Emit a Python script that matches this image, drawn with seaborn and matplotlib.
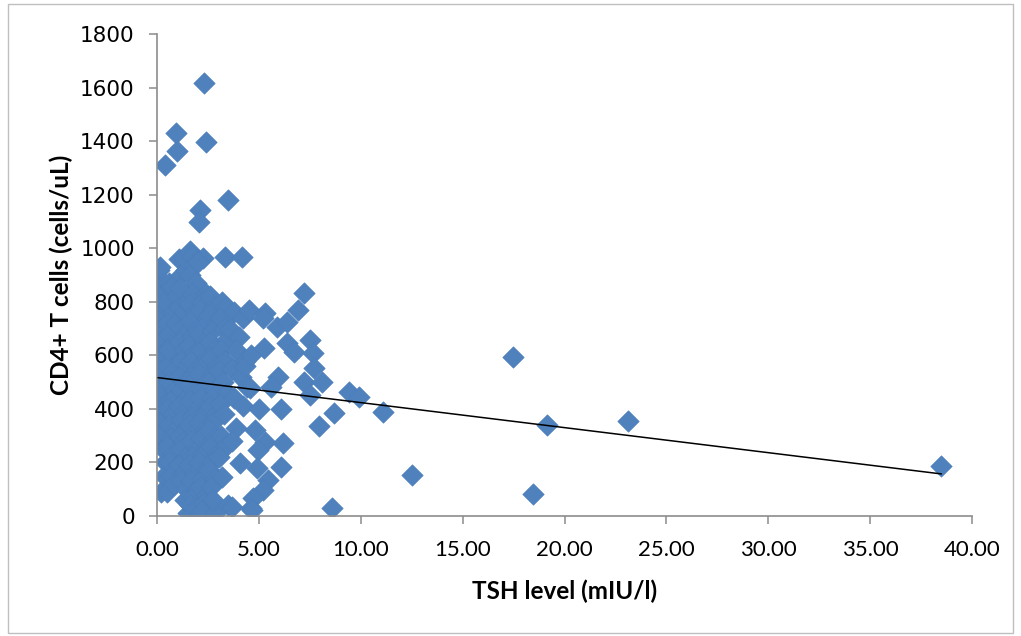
import numpy as np
import pandas as pd
import seaborn as sns
import matplotlib
matplotlib.use("Agg")
import matplotlib.pyplot as plt
from matplotlib.ticker import FormatStrFormatter
from matplotlib import font_manager
from matplotlib.patches import Rectangle

# ---------------- data ----------------
tsh_left = [0.10, 0.20, 0.15, 0.30, 0.10, 0.05, 0.20, 0.10, 0.30, 0.05, 0.15, 0.30, 0.10,
            0.20, 0.10, 0.25, 0.10, 0.30, 0.20, 0.39, 0.40, 0.40, 0.40, 0.40, 0.35, 0.15]
cd4_left = [920, 880, 850, 830, 770, 730, 700, 620, 600, 580, 540, 500, 470,
            440, 380, 350, 300, 250, 90, 1311, 800, 660, 420, 200, 150, 930]

tsh_b1 = [0.50, 0.60, 0.70, 0.80, 0.50, 0.60, 0.70, 0.90, 0.50, 0.80, 0.60, 0.90, 0.70, 0.50,
          0.80, 0.60, 0.90, 0.70, 0.50, 0.80, 0.60, 0.90, 0.70, 0.85, 0.93, 0.98, 0.75, 1.00,
          0.95, 0.55]
cd4_b1 = [90, 870, 850, 760, 720, 680, 640, 600, 560, 540, 500, 470, 430, 400,
          380, 340, 320, 290, 260, 230, 200, 180, 150, 120, 1430, 1363, 860, 820,
          720, 620]

tsh_b2 = [1.10, 1.30, 1.20, 1.40, 1.10, 1.30, 1.20, 1.40, 1.10, 1.30, 1.20, 1.45, 1.10, 1.35,
          1.20, 1.40, 1.10, 1.30, 1.20, 1.45, 1.10, 1.30, 1.20, 1.40, 1.10, 1.30, 1.20, 1.40,
          1.50, 1.35, 1.15, 1.45, 1.30]
cd4_b2 = [960, 950, 900, 920, 780, 760, 700, 680, 650, 620, 580, 560, 520, 500,
          470, 440, 410, 390, 360, 330, 300, 280, 250, 220, 190, 160, 130, 100,
          11, 60, 850, 800, 963]

tsh_b3 = [1.60, 1.70, 1.80, 1.60, 1.90, 1.70, 1.55, 1.85, 1.60, 1.95, 1.70, 1.55, 1.85, 1.65,
          1.95, 1.70, 1.55, 1.85, 1.60, 1.95, 1.70, 1.55, 1.85, 1.65, 1.95, 1.70, 1.55, 1.85,
          1.65, 1.95, 1.75, 1.60, 1.90]
cd4_b3 = [990, 970, 940, 900, 870, 830, 790, 760, 730, 700, 670, 640, 610, 580,
          550, 520, 490, 460, 430, 400, 370, 340, 310, 280, 250, 220, 190, 160,
          130, 100, 70, 40, 30]

tsh_b4 = [2.31, 2.40, 2.10, 2.05, 2.26, 2.00, 2.40, 2.20, 2.10, 2.45, 2.30, 2.05, 2.35, 2.15,
          2.45, 2.25, 2.05, 2.40, 2.20, 2.10, 2.45, 2.30, 2.05, 2.35, 2.15, 2.45, 2.25, 2.05,
          2.40, 2.20, 2.10, 2.45, 2.30, 2.20]
cd4_b4 = [1617, 1397, 1143, 1098, 963, 950, 830, 800, 770, 740, 710, 680, 650, 620,
          590, 560, 530, 500, 470, 440, 410, 380, 350, 320, 290, 260, 230, 200,
          170, 140, 110, 80, 50, 20]

tsh_b5 = [2.60, 2.80, 2.55, 2.90, 2.70, 2.60, 2.85, 2.65, 2.95, 2.75, 2.55, 2.85, 2.70, 2.60,
          2.90, 2.75, 2.55, 2.85, 2.65, 2.95, 2.70, 2.55, 2.85, 2.65, 2.85, 2.75]
cd4_b5 = [820, 780, 750, 720, 690, 650, 620, 590, 560, 530, 500, 470, 440, 410,
          380, 350, 320, 290, 260, 230, 200, 170, 140, 110, 11, 60]

tsh_b6 = [3.34, 3.50, 3.20, 3.40, 3.10, 3.30, 3.45, 3.15, 3.35, 3.05, 3.25, 3.45, 3.10, 3.30,
          3.15, 3.40, 3.05, 3.20, 3.50, 3.70]
cd4_b6 = [967, 1180, 800, 780, 740, 700, 660, 620, 580, 540, 500, 460, 420, 380,
          300, 260, 220, 146, 40, 34]

tsh_b7 = [4.17, 3.80, 4.20, 3.60, 4.00, 3.90, 4.30, 3.70, 4.10, 4.40, 3.80, 4.20, 3.90, 3.70,
          4.07, 4.50, 4.56, 4.30, 4.60]
cd4_b7 = [967, 760, 740, 700, 670, 620, 580, 550, 520, 480, 440, 410, 330, 280,
          198, 769, 478, 560, 600]

tsh_b8 = [5.30, 5.20, 5.90, 6.40, 6.90, 7.20, 5.25, 6.40, 6.70, 7.50, 7.65, 7.70, 5.95, 7.20,
          8.10, 7.50, 6.10, 5.00, 4.80, 5.30, 6.20, 4.96, 6.10, 4.90, 5.45, 5.20, 4.70, 4.60,
          8.60, 4.66, 5.60]
cd4_b8 = [758, 740, 706, 724, 770, 833, 627, 646, 612, 657, 608, 552, 519, 500,
          500, 452, 400, 400, 321, 276, 272, 246, 183, 179, 134, 97, 67, 30,
          30, 22, 482]

tsh_far = [7.95, 8.70, 9.40, 9.90, 11.10, 12.50, 17.47, 18.45, 19.14, 23.10, 38.50]
cd4_far = [336, 385, 463, 444, 388, 153, 594, 82, 340, 355, 187]

# linear trend line (Excel trendline)
trend_intercept = 517.0
trend_slope = -9.35

x_ticks = [0, 5, 10, 15, 20, 25, 30, 35, 40]
y_ticks = [0, 200, 400, 600, 800, 1000, 1200, 1400, 1600, 1800]
x_label = "TSH level (mIU/l)"
y_label = "CD4+ T cells (cells/uL)"

tsh = tsh_left + tsh_b1 + tsh_b2 + tsh_b3 + tsh_b4 + tsh_b5 + tsh_b6 + tsh_b7 + tsh_b8 + tsh_far
cd4 = cd4_left + cd4_b1 + cd4_b2 + cd4_b3 + cd4_b4 + cd4_b5 + cd4_b6 + cd4_b7 + cd4_b8 + cd4_far
df = pd.DataFrame({"TSH": tsh, "CD4": cd4})
trend_x = [min(tsh), max(tsh)]
trend_df = pd.DataFrame({"TSH": trend_x,
                         "CD4": [trend_intercept + trend_slope * v for v in trend_x]})

# ---------------- style ----------------
sns.set_theme(style="white")
avail = {f.name for f in font_manager.fontManager.ttflist}
def pick(*names):
    for n in names:
        if n in avail:
            return n
    return "DejaVu Sans"
label_font = pick("Lato", "Open Sans", "DejaVu Sans")
xtick_font = pick("Liberation Sans Narrow", "DejaVu Sans Condensed", "Lato")
ytick_font = pick("DejaVu Sans")
plt.rcParams["font.family"] = ["DejaVu Sans"]

blue = "#4F81BD"
grey = "#8C8C8C"

fig = plt.figure(figsize=(10.21, 6.36), dpi=100)
ax = fig.add_axes([0.1538, 0.1887, 0.952 - 0.1538, 0.9465 - 0.1887])

sns.scatterplot(data=df, x="TSH", y="CD4", marker="D", s=120, color=blue,
                edgecolor="#4A7EBB", linewidth=0.4, ax=ax, zorder=2, legend=False)
sns.lineplot(data=trend_df, x="TSH", y="CD4", color="black", linewidth=1.1,
             ax=ax, zorder=3, legend=False)

ax.set_xlim(0, 40)
ax.set_ylim(0, 1800)
ax.set_xticks(x_ticks)
ax.set_yticks(y_ticks)
ax.xaxis.set_major_formatter(FormatStrFormatter("%.2f"))

for side in ["top", "right"]:
    ax.spines[side].set_visible(False)
for side in ["left", "bottom"]:
    ax.spines[side].set_color(grey)
    ax.spines[side].set_linewidth(1.2)
ax.tick_params(axis="both", which="major", direction="out", length=6, width=1.1,
               color=grey, left=True, bottom=True)
ax.tick_params(axis="x", pad=11)
ax.tick_params(axis="y", pad=10)
for lab in ax.get_xticklabels():
    lab.set_fontfamily(xtick_font)
    lab.set_fontsize(16)
    lab.set_color("black")
for lab in ax.get_yticklabels():
    lab.set_fontfamily(ytick_font)
    lab.set_fontsize(15.5)
    lab.set_color("black")

ax.set_xlabel(x_label, fontsize=17.5, fontweight="bold", family=label_font, labelpad=14, color="black")
ax.set_ylabel(y_label, fontsize=17.5, fontweight="bold", family=label_font, labelpad=5, color="black")
ax.set_facecolor("white")

fig.patches.append(Rectangle((0.0075, 0.004), 0.985, 0.99, transform=fig.transFigure,
                             fill=False, edgecolor="#BFBFBF", linewidth=1.0))

fig.savefig("out.png", dpi=100)
